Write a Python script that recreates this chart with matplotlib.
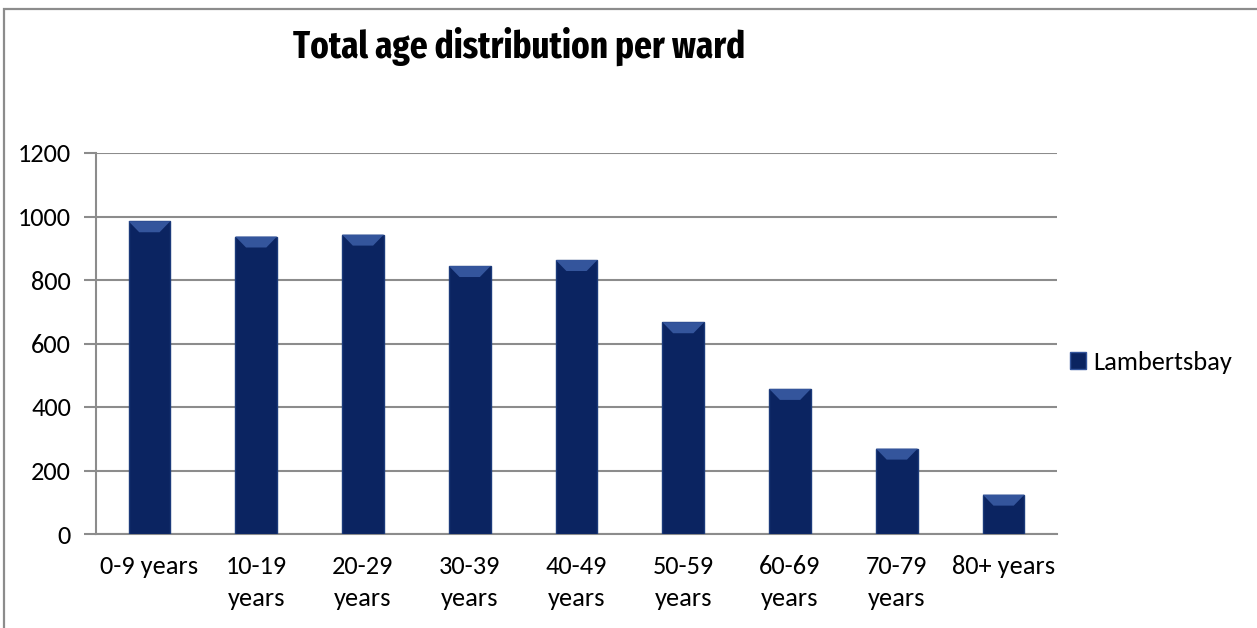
import matplotlib
matplotlib.use('Agg')
import matplotlib.pyplot as plt
from matplotlib.patches import Rectangle, Patch

# data
categories = ['0-9 years', '10-19\nyears', '20-29\nyears', '30-39\nyears', '40-49\nyears',
              '50-59\nyears', '60-69\nyears', '70-79\nyears', '80+ years']
values = [985, 937, 943, 844, 863, 667, 457, 269, 124]
series_name = 'Lambertsbay'
yticks = [0, 200, 400, 600, 800, 1000, 1200]

W, H = 1257, 628
fig = plt.figure(figsize=(W / 100, H / 100), dpi=100)
fig.patch.set_facecolor('white')

label_font = ['Carlito', 'DejaVu Sans']
title_font = ['Fira Sans Extra Condensed', 'Barlow Condensed', 'DejaVu Sans']

# outer frame (only top and left visible in the reference)
fig.patches.append(Rectangle((4 / W, -0.1), 1.2, (H - 9) / H + 0.1, transform=fig.transFigure,
                             fill=False, edgecolor='#8c8c8c', linewidth=1.6))

ax = fig.add_axes([96 / W, (H - 534) / H, (1057 - 96) / W, (534 - 153) / H])

x = list(range(len(categories)))
bw = 0.39
bars = ax.bar(x, values, width=bw, color='#0b2461', edgecolor='#1b3a7a', linewidth=1.0, zorder=3)

# lighter bevel on top of each bar
for xi, v in zip(x, values):
    h = 11 * 1200 / 381
    ax.fill([xi - bw / 2, xi + bw / 2, xi + bw / 2 - 0.1, xi - bw / 2 + 0.1],
            [v, v, v - h, v - h], color='#34559c', zorder=4, linewidth=0)

ax.set_xlim(-0.5, len(categories) - 0.5)
ax.set_ylim(0, 1200)
ax.set_yticks(yticks)
ax.set_xticks(x)
ax.set_xticklabels(categories, fontsize=19, family=label_font, linespacing=1.5)
ax.set_yticklabels([str(t) for t in yticks], fontsize=19, family=label_font)
ax.yaxis.grid(True, color='#8c8c8c', linewidth=1.5, zorder=0)
ax.set_axisbelow(True)

for s in ['top', 'right']:
    ax.spines[s].set_visible(False)
for s in ['left', 'bottom']:
    ax.spines[s].set_color('#8c8c8c')
    ax.spines[s].set_linewidth(1.5)
ax.tick_params(axis='y', length=9, width=1.5, color='#8c8c8c', pad=9)
ax.tick_params(axis='x', length=0, pad=15)

title = fig.text(519 / W, (H - 58) / H, 'Total age distribution per ward', ha='center', va='baseline',
                 fontsize=34, fontweight='bold', family=title_font)
# fit the title to the width seen in the reference (~452 px)
fig.canvas.draw()
tw = title.get_window_extent().width
title.set_fontsize(34 * 452 / tw)

leg = fig.legend(handles=[Patch(facecolor='#0b2461', edgecolor='#34559c', label=series_name)],
                 loc='center left', bbox_to_anchor=(1046 / W, (H - 362) / H), frameon=False,
                 prop={'family': label_font, 'size': 19}, handlelength=0.6, handleheight=0.6,
                 handletextpad=0.3)

fig.savefig('out.png', dpi=100)
